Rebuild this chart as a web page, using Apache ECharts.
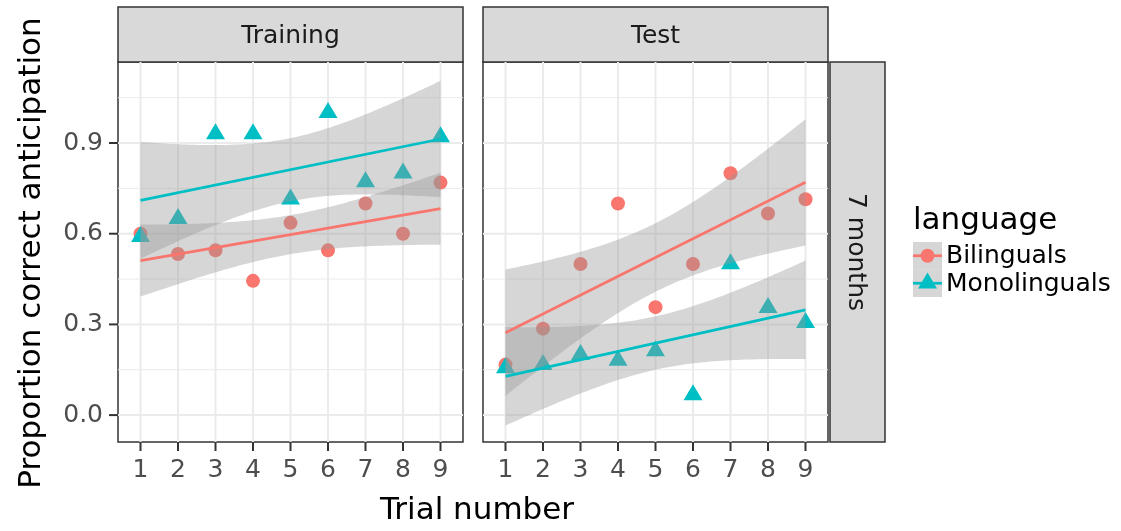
<!DOCTYPE html>
<html>
<head>
<meta charset="utf-8">
<title>Proportion correct anticipation</title>
<script src="https://cdn.jsdelivr.net/npm/echarts@6.0.0/dist/echarts.min.js"></script>
<style>
  html, body { margin: 0; padding: 0; background: #fff; }
  #chart { width: 1121px; height: 531px; }
</style>
</head>
<body>
<div id="chart"></div>
<script>
// trial numbers, facets and groups
var trials = [1, 2, 3, 4, 5, 6, 7, 8, 9];
var panels = ['Training', 'Test'];
var groups = ['Bilinguals', 'Monolinguals'];
var rowLabel = '7 months';

// proportion correct anticipation per trial
var trainingBilinguals   = [0.600, 0.533, 0.545, 0.444, 0.636, 0.545, 0.700, 0.600, 0.769];
var trainingMonolinguals = [0.590, 0.650, 0.930, 0.930, 0.714, 1.000, 0.771, 0.800, 0.920];
var testBilinguals       = [0.167, 0.286, 0.500, 0.700, 0.357, 0.500, 0.800, 0.667, 0.714];
var testMonolinguals     = [0.156, 0.167, 0.200, 0.181, 0.212, 0.067, 0.500, 0.355, 0.306];

// y axis ticks
var yTicks = [0, 0.3, 0.6, 0.9];
var yMinor = [0.15, 0.45, 0.75, 1.05];

var colors = ['#F8766D', '#00BFC4'];
var ribbonFill = 'rgba(153,153,153,0.4)';
var FONT = 'DejaVu Sans';
var X_MIN = 0.4, X_MAX = 9.6, Y_MIN = -0.089, Y_MAX = 1.168;
var T975 = 2.3646; // qt(0.975, df = 7)
var TICK_LEN = 9;

// lm fit with 95% confidence band, like geom_smooth(method = "lm")
function fitLine(xs, ys) {
  var n = xs.length, mx = 0, my = 0, sxx = 0, sxy = 0, sse = 0, i;
  for (i = 0; i < n; i++) { mx += xs[i] / n; my += ys[i] / n; }
  for (i = 0; i < n; i++) {
    sxx += (xs[i] - mx) * (xs[i] - mx);
    sxy += (xs[i] - mx) * (ys[i] - my);
  }
  var b = sxy / sxx, a = my - b * mx;
  for (i = 0; i < n; i++) { var r = ys[i] - a - b * xs[i]; sse += r * r; }
  var s = Math.sqrt(sse / (n - 2));
  var x0 = xs[0], x1 = xs[n - 1], band = [];
  for (var k = 0; k < 80; k++) {
    var x = x0 + (x1 - x0) * k / 79;
    var fit = a + b * x;
    var se = s * Math.sqrt(1 / n + (x - mx) * (x - mx) / sxx);
    band.push([x, fit - T975 * se, fit + T975 * se]);
  }
  return { line: [[x0, a + b * x0], [x1, a + b * x1]], band: band };
}

function ribbonRenderer(band) {
  return function (params, api) {
    if (params.dataIndex !== 0) return null;
    var upper = band.map(function (r) { return api.coord([r[0], r[2]]); });
    var lower = band.map(function (r) { return api.coord([r[0], r[1]]); }).reverse();
    return { type: 'polygon', shape: { points: upper.concat(lower) }, style: { fill: ribbonFill } };
  };
}

function hGrid(params, api) {
  var cs = params.coordSys;
  var y = api.coord([api.value(0), api.value(1)])[1];
  return { type: 'line', shape: { x1: cs.x, y1: y, x2: cs.x + cs.width, y2: y },
    style: { stroke: '#EBEBEB', lineWidth: api.value(2) } };
}
function vGrid(params, api) {
  var cs = params.coordSys;
  var x = api.coord([api.value(0), api.value(1)])[0];
  return { type: 'line', shape: { x1: x, y1: cs.y, x2: x, y2: cs.y + cs.height },
    style: { stroke: '#EBEBEB', lineWidth: 2 } };
}

var panelData = [[trainingBilinguals, trainingMonolinguals], [testBilinguals, testMonolinguals]];
var gridLeft = [118, 483];
var GRID_TOP = 62, GRID_W = 345, GRID_H = 380;
var series = [];

panelData.forEach(function (pair, p) {
  var gridRows = yTicks.map(function (v) { return [X_MIN, v, 2]; })
    .concat(yMinor.map(function (v) { return [X_MIN, v, 1]; }));
  series.push({ type: 'custom', xAxisIndex: p, yAxisIndex: p, z: 1, silent: true,
    renderItem: hGrid, data: gridRows });
  series.push({ type: 'custom', xAxisIndex: p, yAxisIndex: p, z: 1, silent: true,
    renderItem: vGrid, data: trials.map(function (t) { return [t, Y_MIN]; }) });

  pair.forEach(function (vals, g) {
    var pts = trials.map(function (t, i) { return [t, vals[i]]; });
    series.push({
      name: groups[g], type: 'scatter', xAxisIndex: p, yAxisIndex: p, z: 2,
      symbol: g === 0 ? 'circle' : 'triangle',
      symbolSize: g === 0 ? 14 : [19, 16],
      symbolOffset: g === 0 ? [0, 0] : [0, -2.7],
      itemStyle: { color: colors[g], opacity: 1 },
      data: pts
    });
  });

  pair.forEach(function (vals, g) {
    var fit = fitLine(trials, vals);
    series.push({ type: 'custom', xAxisIndex: p, yAxisIndex: p, z: 3, silent: true,
      renderItem: ribbonRenderer(fit.band), data: fit.band });
    series.push({ type: 'line', xAxisIndex: p, yAxisIndex: p, z: 4, silent: true,
      showSymbol: false, data: fit.line,
      lineStyle: { color: colors[g], width: 2.7 } });
  });
});

var strips = [];
panels.forEach(function (name, p) {
  strips.push({ type: 'rect', shape: { x: gridLeft[p], y: 7, width: GRID_W, height: 55 },
    style: { fill: '#D9D9D9', stroke: '#333333', lineWidth: 1.5 } });
  strips.push({ type: 'text', x: gridLeft[p] + GRID_W / 2, y: 36,
    style: { text: name, fill: '#1A1A1A', font: '25px "' + FONT + '"', align: 'center', verticalAlign: 'middle' } });
});
strips.push({ type: 'rect', shape: { x: 830, y: GRID_TOP, width: 55, height: GRID_H },
  style: { fill: '#D9D9D9', stroke: '#333333', lineWidth: 1.5 } });
strips.push({ type: 'text', x: 855, y: 252, rotation: -Math.PI / 2,
  style: { text: rowLabel, fill: '#1A1A1A', font: '25px "' + FONT + '"', align: 'center', verticalAlign: 'middle' } });

// titles
strips.push({ type: 'text', x: 32, y: 253, rotation: Math.PI / 2,
  style: { text: 'Proportion correct anticipation', fill: '#000', font: '31px "' + FONT + '"', align: 'center', verticalAlign: 'middle' } });
strips.push({ type: 'text', x: 477, y: 511,
  style: { text: 'Trial number', fill: '#000', font: '31px "' + FONT + '"', align: 'center', verticalAlign: 'middle' } });

// legend
var keyX = 913, keyW = 29, keyTop = 242, keyH = 27.5;
strips.push({ type: 'text', x: keyX, y: 221,
  style: { text: 'language', fill: '#000', font: '31px "' + FONT + '"', align: 'left', verticalAlign: 'middle' } });
groups.forEach(function (name, g) {
  var cy = keyTop + keyH * g + keyH / 2, cx = keyX + keyW / 2;
  strips.push({ type: 'rect', shape: { x: keyX, y: keyTop + keyH * g, width: keyW, height: keyH },
    style: { fill: ribbonFill } });
  strips.push({ type: 'line', shape: { x1: keyX, y1: cy, x2: keyX + keyW, y2: cy },
    style: { stroke: colors[g], lineWidth: 2.7 } });
  if (g === 0) {
    strips.push({ type: 'circle', shape: { cx: cx, cy: cy, r: 7 }, style: { fill: colors[g] } });
  } else {
    strips.push({ type: 'polygon', shape: { points: [[cx, cy - 10.7], [cx + 9.5, cy + 5.3], [cx - 9.5, cy + 5.3]] },
      style: { fill: colors[g] } });
  }
  strips.push({ type: 'text', x: keyX + keyW + 4, y: cy + 1,
    style: { text: name, fill: '#000', font: '25px "' + FONT + '"', align: 'left', verticalAlign: 'middle' } });
});

// tick marks outside the panels, as plain rects so they show at any width
var bottom = GRID_TOP + GRID_H;
var xScale = function (p, t) { return gridLeft[p] + (t - X_MIN) / (X_MAX - X_MIN) * GRID_W; };
var yScale = function (v) { return GRID_TOP + (Y_MAX - v) / (Y_MAX - Y_MIN) * GRID_H; };
panels.forEach(function (name, p) {
  trials.forEach(function (t) {
    strips.push({ type: 'rect', z: 100, shape: { x: xScale(p, t) - 1, y: bottom, width: 2, height: TICK_LEN },
      style: { fill: '#333333' } });
  });
});
yTicks.forEach(function (v) {
  strips.push({ type: 'rect', z: 100, shape: { x: gridLeft[0] - TICK_LEN, y: yScale(v) - 1, width: TICK_LEN, height: 2 },
    style: { fill: '#333333' } });
});

var option = {
  animation: false,
  textStyle: { fontFamily: FONT },
  grid: gridLeft.map(function (l) {
    return { left: l, top: GRID_TOP, width: GRID_W, height: GRID_H, show: true,
      backgroundColor: '#fff', borderColor: '#333333', borderWidth: 1.5 };
  }),
  xAxis: gridLeft.map(function (l, p) {
    return {
      type: 'value', gridIndex: p, min: X_MIN, max: X_MAX, position: 'bottom',
      axisLine: { show: false, onZero: false },
      axisTick: { show: false },
      axisLabel: { customValues: trials, color: '#4D4D4D', fontSize: 25, fontFamily: FONT, margin: 16 },
      splitLine: { show: false }
    };
  }),
  yAxis: gridLeft.map(function (l, p) {
    return {
      type: 'value', gridIndex: p, min: Y_MIN, max: Y_MAX, position: 'left',
      axisLine: { show: false, onZero: false },
      axisTick: { show: false },
      axisLabel: { show: p === 0, customValues: yTicks, color: '#4D4D4D', fontSize: 25, fontFamily: FONT, margin: 15,
        formatter: function (v) { return v.toFixed(1); } },
      splitLine: { show: false }
    };
  }),
  graphic: strips,
  series: series
};

var chart = echarts.init(document.getElementById('chart'));
chart.setOption(option);
</script>
</body>
</html>
